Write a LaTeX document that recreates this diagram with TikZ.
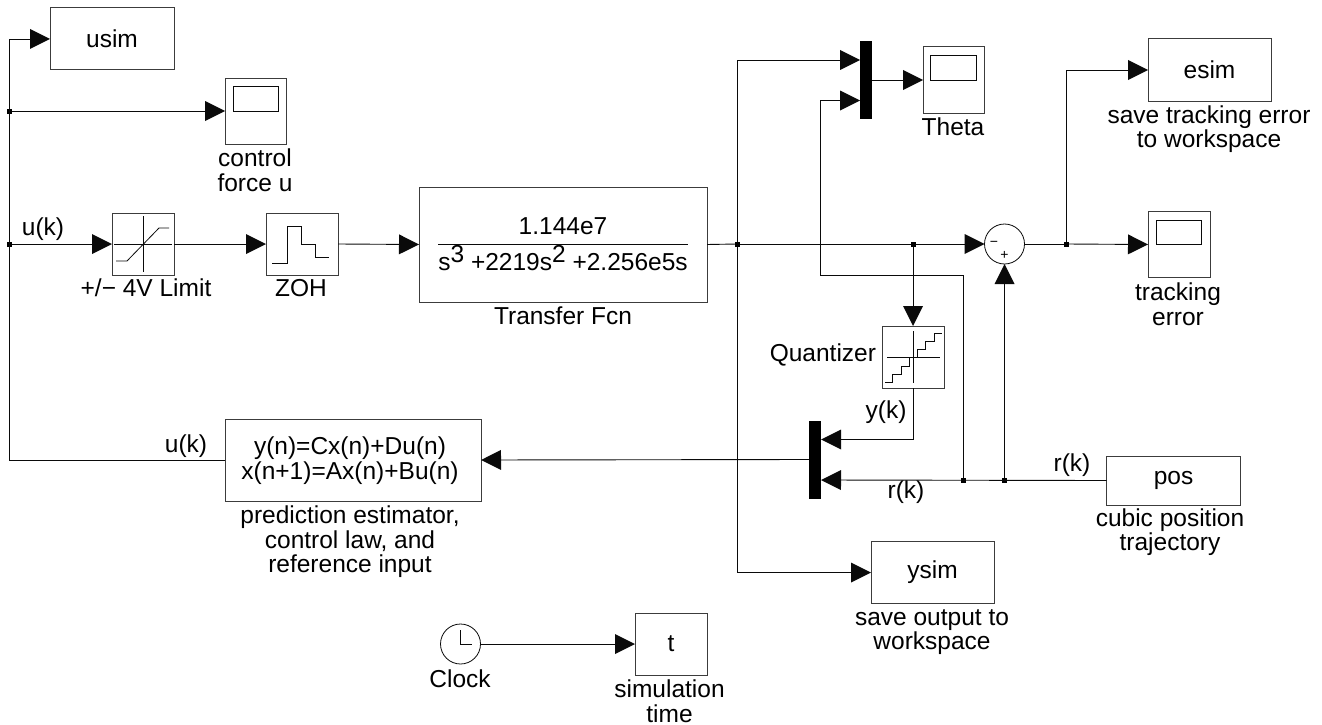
\documentclass[tikz,border=0pt]{standalone}
\usepackage{fontspec}
\setmainfont{Liberation Sans}
\usetikzlibrary{arrows.meta, calc}
\definecolor{Wire}{RGB}{10, 10, 10}
\definecolor{Frame}{RGB}{60, 60, 60}
\tikzset{
  sig/.style={draw=Wire, line width=0.9pt, -{Triangle[length=20pt,width=20pt,line width=0pt]}},
  wire/.style={draw=Wire, line width=0.9pt},
  block/.style={draw=Frame, line width=1pt, inner sep=0pt, outer sep=0pt, align=center, font=\fontsize{24.5}{25}\selectfont},
  junc/.style={fill=black, inner sep=0pt, outer sep=0pt, minimum size=5pt},
  muxbar/.style={fill=black, inner sep=0pt, outer sep=0pt, minimum width=12pt, minimum height=78pt},
  lbl/.style={inner sep=0pt, outer sep=0pt, align=center, font=\fontsize{24.5}{24.5}\selectfont},
  glyph/.style={draw=Wire, line width=0.8pt},
}
\begin{document}
\begin{tikzpicture}[x=1pt, y=-1pt]
\useasboundingbox (0,0) rectangle (1322,725);

% Sinks on the left
\node[block, minimum width=124pt, minimum height=62pt] (usim) at (112,39) {usim};
\node[block, minimum width=61pt, minimum height=66pt] (scopeU) at (255.5,111) {};
\node[lbl] (scopeULabel) at (255,170) {control\\force u};

% Forward path
\node[block, minimum width=62pt, minimum height=62pt] (limit) at (143,244) {};
\node[lbl] (limitLabel) at (146,288) {+/\textminus{} 4V Limit};
\node[block, minimum width=72pt, minimum height=62pt] (zoh) at (302,244) {};
\node[lbl] (zohLabel) at (301,288) {ZOH};
\node[block, minimum width=288pt, minimum height=115pt] (plant) at (563,244.5) {};
\node[lbl, anchor=base] (plantNum) at (563,234) {1.144e7};
\node[lbl, anchor=base] (plantDen) at (563,270) {s\raisebox{8pt}{3} +2219s\raisebox{8pt}{2} +2.256e5s};
\node[lbl] (plantLabel) at (563,316) {Transfer Fcn};
\node[lbl] (uLabelA) at (43,229) {u(k)};

% Summing junction and outputs
\node[draw=Wire, circle, line width=0.8pt, minimum size=40pt, inner sep=0pt, outer sep=0pt] (sum) at (1004.5,244) {};
\node[lbl, font=\fontsize{14}{14}\selectfont] (sumMinus) at (994,244) {\textminus};
\node[lbl, font=\fontsize{14}{14}\selectfont] (sumPlus) at (1004.5,255) {+};
\node[block, minimum width=123pt, minimum height=62pt] (esim) at (1209.5,70) {esim};
\node[lbl] (esimLabel) at (1209,129) {save tracking error\\to workspace};
\node[block, minimum width=62pt, minimum height=66pt] (scopeE) at (1179,244.5) {};
\node[lbl] (scopeELabel) at (1178,304) {tracking\\error};

% Mux and scope at the top
\node[muxbar] (muxTop) at (866,80) {};
\node[block, minimum width=61pt, minimum height=66pt] (scopeT) at (953.5,80) {};
\node[lbl] (scopeTLabel) at (953,127) {Theta};

% Quantizer and feedback
\node[block, minimum width=62pt, minimum height=62pt] (quant) at (913,357) {};
\node[lbl, anchor=east] (quantLabel) at (876,355) {Quantizer};
\node[lbl] (yLabel) at (886,412) {y(k)};
\node[muxbar] (muxLow) at (815,459.5) {};
\node[block, minimum width=256pt, minimum height=82pt] (est) at (353,460) {};
\node[lbl] (estText) at (350,460.5) {y(n)=Cx(n)+Du(n)\\x(n+1)=Ax(n)+Bu(n)};
\node[lbl] (estLabel) at (350,542) {prediction estimator,\\control law, and\\reference input};
\node[lbl] (uLabelB) at (186,446) {u(k)};
\node[block, minimum width=134pt, minimum height=49pt] (pos) at (1173.5,480.5) {pos};
\node[lbl] (posLabel) at (1170,532) {cubic position\\trajectory};
\node[lbl] (rLabelA) at (1072,465) {r(k)};
\node[lbl] (rLabelB) at (906,492.5) {r(k)};
\node[block, minimum width=123pt, minimum height=62pt] (ysim) at (932.5,572.5) {ysim};
\node[lbl] (ysimLabel) at (932,632) {save output to\\workspace};

% Clock
\node[draw=Wire, circle, line width=0.8pt, minimum size=40pt, inner sep=0pt, outer sep=0pt] (clock) at (460.5,644) {};
\node[lbl] (clockLabel) at (460,679) {Clock};
\node[block, minimum width=72pt, minimum height=62pt] (simT) at (671,644) {t};
\node[lbl] (simTLabel) at (669.5,701) {simulation\\time};

% Branch points
\node[junc] (jForce) at (9,111) {};
\node[junc] (jLimit) at (9,244) {};
\node[junc] (jPlant) at (737.5,244) {};
\node[junc] (jQuant) at (913,244) {};
\node[junc] (jErr) at (1066,244) {};
\node[junc] (jMux) at (963.5,480) {};
\node[junc] (jSum) at (1004.5,480) {};

% Corners
\coordinate (cTop) at (9,39);
\coordinate (cBot) at (9,460);

% Icons inside the blocks
\draw[glyph] (233,86) rectangle (278,111);
\draw[glyph] (930.5,55) rectangle (976,80);
\draw[glyph] (1156,220) rectangle (1201.5,244);
\draw[glyph] (143,216) -- (143,272);
\draw[glyph] (114,244) -- (172,244);
\draw[glyph] (116,261) -- (127,261) -- (159,228) -- (169,228);
\draw[glyph] (272,263) -- (287,263) -- (287,226) -- (301,226) -- (301,244) -- (315,244) -- (315,257) -- (329,257);
\draw[glyph] (887,357) -- (940,357);
\draw[glyph] (913,331) -- (913,383);
\draw[glyph] (917.5,357) -- (917.5,349) -- (925.5,349) -- (925.5,341) -- (934,341) -- (934,333) -- (942,333);
\draw[glyph] (909.5,357) -- (909.5,366) -- (901,366) -- (901,374) -- (892.5,374) -- (892.5,382) -- (884.5,382);
\draw[glyph] (460.5,630) -- (460.5,644) -- (471.5,644);
\draw[Wire, line width=0.9pt] (438,244) -- (688,244);

% Estimator output
\draw[sig] (est.west) -- (cBot) -- (cTop) -- (usim.west);
\draw[sig] (jForce) -- (scopeU.west);
\draw[sig] (jLimit) -- (limit.west);

% Forward path wires
\draw[sig] (limit.east) -- (zoh.west);
\draw[sig] (zoh.east) -- (plant.west);
\draw[wire] (plant.east) -- (jPlant);
\draw[wire] (jPlant) -- (jQuant);
\draw[sig] (jQuant) -- (sum.west);
\draw[wire] (sum.east) -- (jErr);
\draw[sig] (jErr) -- (scopeE.west);
\draw[sig] (jErr) -- (1066,70) -- (esim.west);

% Plant output to the top mux and to ysim
\draw[sig] (jPlant) -- (737.5,60) -- ($(muxTop.west)+(0,-20)$);
\draw[sig] (jPlant) -- (737.5,572.5) -- (ysim.west);
\draw[sig] (muxTop.east) -- (scopeT.west);

% Quantizer path
\draw[sig] (jQuant) -- (quant.north);
\draw[sig] (quant.south) -- (913,439.5) -- ($(muxLow.east)+(0,-20)$);
\draw[sig] (muxLow.west) -- (est.east);

% Reference signal
\draw[sig] (pos.west) -- ($(muxLow.east)+(0,20.5)$);
\draw[sig] (jSum) -- (sum.south);
\draw[sig] (jMux) -- (963.5,275) -- (820,275) -- (820,100.5) -- ($(muxTop.west)+(0,20.5)$);

% Clock wire
\draw[sig] (clock.east) -- (simT.west);

\end{tikzpicture}
\end{document}
